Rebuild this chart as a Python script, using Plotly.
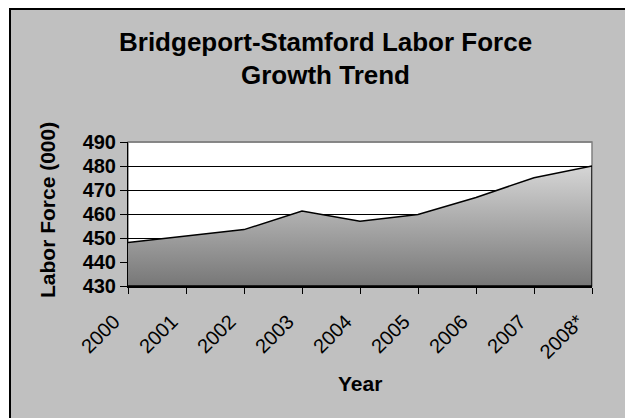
import plotly.graph_objects as go

years = ["2000", "2001", "2002", "2003", "2004", "2005", "2006", "2007", "2008*"]
labor_force = [448.1, 450.9, 453.5, 461.2, 457.0, 459.8, 466.9, 475.1, 480.0]
y_ticks = [430, 440, 450, 460, 470, 480, 490]
y_min, y_max = 430, 490

W, H = 625, 418
L, R, T, B = 128, 33, 142, 132
pw, ph = W - L - R, H - T - B

def px(x):
    return (x - L) / pw

def py(y):
    return (H - B - y) / ph

# closed area polygon built from data + axis baseline
poly_x = years + [years[-1], years[0]]
poly_y = labor_force + [y_min, y_min]

fig = go.Figure()
fig.add_trace(go.Scatter(
    x=poly_x, y=poly_y, mode="lines", fill="toself",
    line=dict(color="black", width=1.5),
    fillgradient=dict(type="vertical", start=y_min, stop=y_max - 8,
                      colorscale=[[0, "#777777"], [1, "#dadada"]]),
    hoverinfo="skip", showlegend=False,
))

font = "Liberation Sans, Arial, sans-serif"
fig.update_layout(
    width=W, height=H,
    margin=dict(l=L, r=R, t=T, b=B),
    paper_bgcolor="white",
    plot_bgcolor="rgba(0,0,0,0)",
    font=dict(family=font, color="black"),
    xaxis=dict(type="category", categoryorder="array", categoryarray=years,
               range=[0, len(years) - 1], showgrid=False,
               showline=True, linecolor="black", linewidth=2,
               ticks="outside", ticklen=6, tickcolor="black", tickwidth=1,
               tickangle=-45, tickfont=dict(size=20, family=font),
               ticklabelshift=-14, ticklabelstandoff=8,
               fixedrange=True),
    yaxis=dict(range=[y_min, y_max], tickvals=y_ticks,
               showgrid=True, gridcolor="black", gridwidth=1,
               showline=True, linecolor="black", linewidth=1,
               ticks="outside", ticklen=7, tickcolor="black",
               tickfont=dict(size=20, family=font, weight="bold"),
               zeroline=False, fixedrange=True),
    shapes=[
        dict(type="rect", xref="paper", yref="paper", layer="below",
             x0=px(10), x1=px(640), y0=py(430), y1=py(9),
             fillcolor="#c0c0c0", line=dict(color="black", width=2)),
        dict(type="rect", xref="paper", yref="paper", layer="below",
             x0=0, x1=1, y0=0, y1=1,
             fillcolor="white", line=dict(color="#808080", width=1.5)),
        dict(type="line", xref="paper", yref="paper", layer="above",
             x0=0, x1=1, y0=1, y1=1,
             line=dict(color="#808080", width=1.5)),
    ],
    annotations=[
        dict(text="Bridgeport-Stamford Labor Force", xref="paper", yref="paper",
             x=px(325), y=py(42), showarrow=False, xanchor="center", yanchor="middle",
             font=dict(size=26, family=font, weight="bold")),
        dict(text="Growth Trend", xref="paper", yref="paper",
             x=px(325), y=py(75), showarrow=False, xanchor="center", yanchor="middle",
             font=dict(size=26, family=font, weight="bold")),
        dict(text="Year", xref="paper", yref="paper",
             x=px(360), y=py(383), showarrow=False, xanchor="center", yanchor="middle",
             font=dict(size=21, family=font, weight="bold")),
        dict(text="Labor Force (000)", xref="paper", yref="paper", textangle=-90,
             x=px(47), y=py(210), showarrow=False, xanchor="center", yanchor="middle",
             font=dict(size=21, family=font, weight="bold")),
    ],
)

fig.write_html("out.html", config={"displayModeBar": False},
               post_script="document.body.style.margin='0';")
